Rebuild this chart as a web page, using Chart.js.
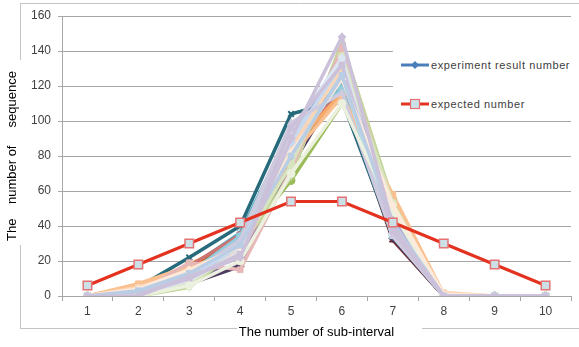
<!DOCTYPE html>
<html>
<head>
<meta charset="utf-8">
<script src="https://cdn.jsdelivr.net/npm/chart.js@4.4.1/dist/chart.umd.min.js"></script>
<style>
  body { margin: 0; background: #fff; }
  #wrap { position: relative; width: 579px; height: 347px; background: #fff; }
  #legend { position: absolute; left: 393px; top: 40px; width: 186px; height: 76px; background: #fff;
    font-family: 'Liberation Sans', Arial, sans-serif; font-size: 11px; color: #404040; letter-spacing: 0.6px; }
  .item { position: absolute; left: 8px; height: 14px; line-height: 14px; white-space: nowrap; }
  .item svg { vertical-align: top; margin-right: 2px; }
</style>
</head>
<body>
<div id="wrap">
  <canvas id="myChart" width="579" height="347"></canvas>
  <div id="legend">
    <div class="item" style="top:18px">
      <svg width="28" height="14"><line x1="0" y1="7" x2="28" y2="7" stroke="#4A7EBB" stroke-width="3"/><path d="M14 3 L18 7 L14 11 L10 7 Z" fill="#4A7EBB"/></svg>experiment result number
    </div>
    <div class="item" style="top:57px">
      <svg width="28" height="14"><line x1="0" y1="7" x2="28" y2="7" stroke="#E3321F" stroke-width="3"/><rect x="9.5" y="2.5" width="9" height="9" fill="#CCE0E8" stroke="#E57373" stroke-width="1.2"/></svg>expected number
    </div>
  </div>
</div>
<script>
const subIntervals = ['1', '2', '3', '4', '5', '6', '7', '8', '9', '10']

const expectedNumber = [6, 18, 30, 42, 54, 54, 42, 30, 18, 6]

// one row per experiment (first drawn at the bottom)
const experimentRuns = [
  [0, 3, 12, 30, 90, 125, 40, 0, 0, 0],
  [0, 2, 14, 26, 82, 130, 46, 0, 0, 0],
  [0, 1, 8, 30, 66, 110, 55, 0, 0, 0],
  [0, 2, 10, 18, 76, 120, 36, 0, 0, 0],
  [0, 4, 16, 36, 95, 112, 37, 0, 0, 0],
  [0, 5, 18, 32, 86, 115, 50, 0, 0, 0],
  [0, 1, 9, 24, 78, 118, 33, 0, 0, 0],
  [0, 3, 12, 24, 86, 116, 32, 0, 0, 0],
  [0, 3, 13, 27, 78, 128, 51, 0, 0, 0],
  [0, 1, 7, 17, 74, 122, 33, 0, 0, 0],
  [0, 4, 15, 33, 85, 118, 45, 0, 0, 0],
  [0, 5, 22, 40, 104, 112, 34, 0, 0, 0],
  [0, 2, 10, 25, 88, 135, 40, 0, 0, 0],
  [0, 4, 17, 35, 92, 115, 37, 0, 0, 0],
  [0, 1, 6, 26, 70, 144, 53, 0, 0, 0],
  [0, 2, 12, 22, 80, 138, 46, 0, 0, 0],
  [0, 3, 14, 30, 94, 121, 38, 0, 0, 0],
  [0, 6, 16, 28, 84, 116, 50, 0, 0, 0],
  [0, 2, 9, 24, 90, 132, 43, 0, 0, 0],
  [0, 3, 15, 30, 86, 124, 42, 0, 0, 0],
  [0, 0, 5, 28, 68, 145, 54, 0, 0, 0],
  [0, 1, 10, 23, 82, 140, 44, 0, 0, 0],
  [0, 4, 13, 34, 96, 118, 35, 0, 0, 0],
  [0, 7, 17, 24, 80, 114, 58, 1, 0, 0],
  [0, 2, 19, 15, 72, 142, 50, 0, 0, 0],
  [0, 1, 7, 27, 75, 137, 53, 0, 0, 0],
  [0, 3, 12, 31, 92, 126, 36, 0, 0, 0],
  [0, 5, 14, 26, 85, 130, 40, 2, 0, 0],
  [0, 2, 11, 28, 88, 133, 38, 0, 0, 0],
  [0, 1, 9, 25, 94, 136, 35, 0, 0, 0],
  [0, 2, 12, 32, 99, 116, 34, 0, 0, 0],
  [0, 1, 10, 24, 96, 132, 37, 0, 0, 0],
  [0, 0, 6, 20, 70, 110, 48, 0, 0, 0],
  [0, 4, 15, 28, 82, 124, 52, 1, 0, 0],
  [0, 3, 13, 29, 80, 126, 42, 0, 0, 0],
  [0, 0, 11, 22, 90, 148, 40, 0, 0, 0]
]

const runColors = [
  '#4F81BD', '#C0504D', '#9BBB59', '#8064A2', '#4BACC6', '#F79646',
  '#2C4D75', '#772C2A', '#5F7530', '#4D3B62', '#B65708', '#276A7C',
  '#729ACA', '#CD7371', '#AFC97A', '#9983B5', '#6FBDD1', '#F9AB6B',
  '#95B3D7', '#D99694', '#C3D69B', '#B3A2C7', '#93CDDD', '#FAC090',
  '#E6B9B8', '#D7E4BD', '#B7DEE8', '#FCD5B5', '#C6D9F1', '#DCE6F2',
  '#D0CADF', '#CCC1DA', '#EBF1DE', '#FDEADA', '#B9CDE5', '#CCC1DA'
]
const runMarkers = [
  'rectRot', 'rect', 'circle', 'triangle', 'star', 'circle',
  'cross', 'triangle', 'rect', 'rectRot', 'star', 'crossRot',
  'circle', 'rect', 'rectRot', 'triangle', 'circle', 'rect',
  'rectRot', 'rect', 'star', 'triangle', 'circle', 'rect',
  'rect', 'circle', 'rectRot', 'rect', 'circle', 'rectRot',
  'triangle', 'rect', 'circle', 'rectRot', 'rect', 'rectRot'
]

const fontFamily = "'Liberation Sans', Arial, sans-serif"

const datasets = experimentRuns.map((run, i) => ({
  label: i === 0 ? 'experiment result number' : 'run ' + (i + 1),
  data: run,
  borderColor: runColors[i],
  backgroundColor: runColors[i],
  borderWidth: 3.5,
  pointStyle: runMarkers[i],
  pointRadius: 4,
  pointBorderWidth: runMarkers[i].startsWith('cross') ? 2 : 1,
  order: experimentRuns.length - i
}))

datasets.push({
  label: 'expected number',
  data: expectedNumber,
  borderColor: '#E3321F',
  backgroundColor: '#CCE0E8',
  borderWidth: 3,
  pointStyle: 'rect',
  pointRadius: 6,
  pointBackgroundColor: '#CCE0E8',
  pointBorderColor: '#E57373',
  pointBorderWidth: 1.5,
  order: 0
})

// grey frame round the chart, broken where the axis titles sit
const framePlugin = {
  id: 'frame',
  beforeDraw(chart) {
    const ctx = chart.ctx
    ctx.save()
    ctx.strokeStyle = '#C4C4C4'
    ctx.lineWidth = 1
    ctx.beginPath()
    ctx.moveTo(20, 3.5); ctx.lineTo(579, 3.5)
    ctx.moveTo(20.5, 3); ctx.lineTo(20.5, 60)
    ctx.moveTo(20.5, 245); ctx.lineTo(20.5, 329)
    ctx.moveTo(20, 328.5); ctx.lineTo(237, 328.5)
    ctx.moveTo(422, 328.5); ctx.lineTo(579, 328.5)
    ctx.stroke()
    ctx.restore()
  }
}

const ctx = document.getElementById('myChart').getContext('2d')

const myChart = new Chart(ctx, {
  type: 'line',
  data: {
    labels: subIntervals,
    datasets: datasets
  },
  options: {
    responsive: false,
    devicePixelRatio: 1,
    animation: false,
    layout: { padding: { top: 16, right: 8, left: 0, bottom: 0 } },
    elements: { line: { tension: 0 } },
    plugins: {
      legend: { display: false },
      tooltip: { enabled: false }
    },
    scales: {
      x: {
        offset: true,
        grid: { offset: true, drawOnChartArea: false, drawTicks: true, tickLength: 5, color: '#A6A6A6' },
        border: { display: true, color: '#A6A6A6' },
        ticks: { color: '#404040', font: { size: 12, family: fontFamily }, padding: 3 },
        title: {
          display: true,
          text: 'The number of sub-interval',
          color: '#000',
          font: { size: 13, family: fontFamily },
          padding: { top: 0, bottom: 7 }
        },
        afterFit: (scale) => { scale.height = 51 }
      },
      y: {
        min: 0,
        max: 160,
        ticks: { stepSize: 20, color: '#404040', font: { size: 12, family: fontFamily }, padding: 7 },
        grid: { color: '#A6A6A6', drawTicks: true, tickLength: 4 },
        border: { display: true, color: '#A6A6A6' },
        title: {
          display: true,
          text: 'The    number of     sequence',
          color: '#000',
          font: { size: 13, family: fontFamily },
          padding: { top: 5, bottom: 0 }
        },
        afterFit: (scale) => { scale.width = 62 }
      }
    }
  },
  plugins: [framePlugin]
})
</script>
</body>
</html>
